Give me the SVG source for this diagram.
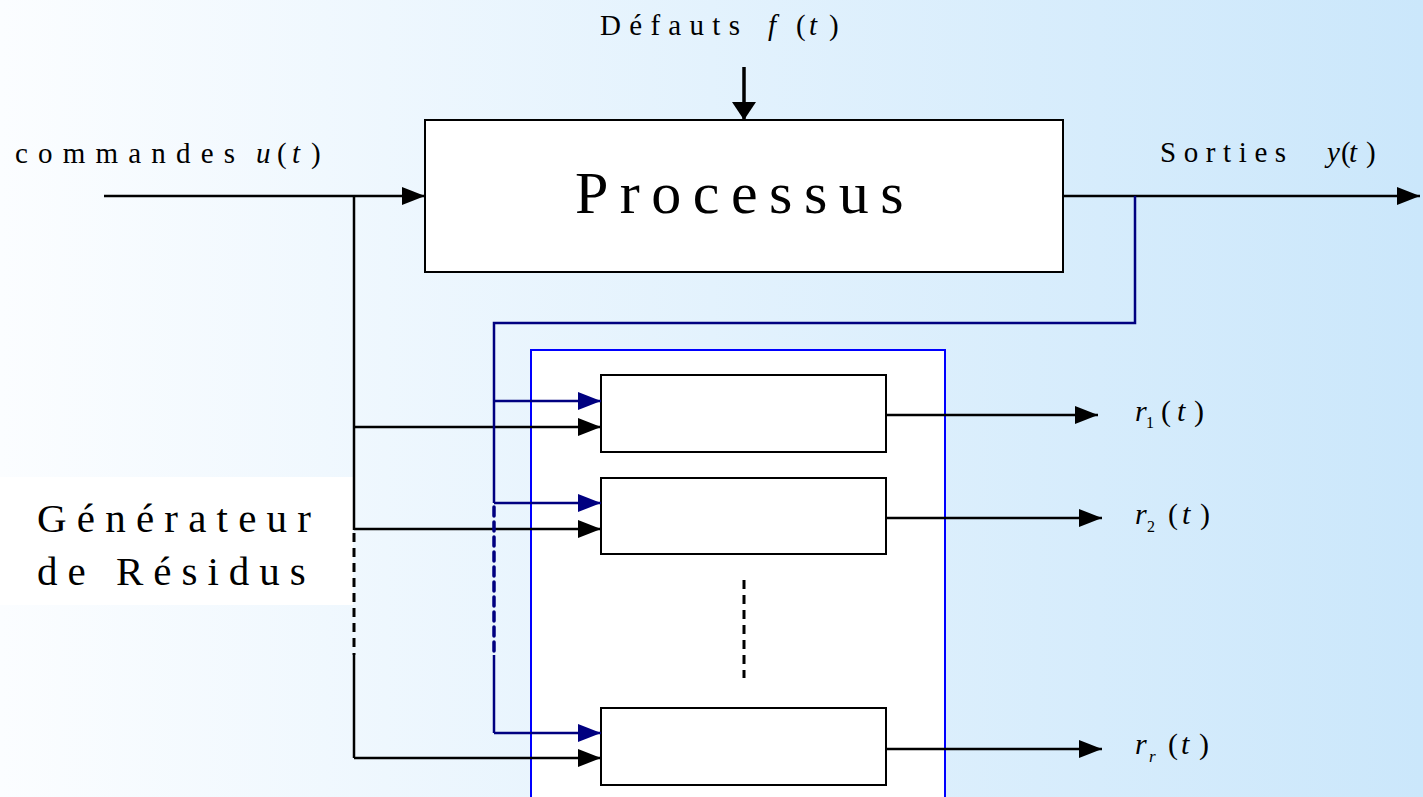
<svg xmlns="http://www.w3.org/2000/svg" width="1423" height="797" viewBox="0 0 1423 797">
<defs>
<linearGradient id="bg" x1="0" y1="0" x2="1" y2="0">
<stop offset="0" stop-color="#fbfdff"/>
<stop offset="1" stop-color="#cbe7fb"/>
</linearGradient>
<marker id="ab" markerUnits="userSpaceOnUse" markerWidth="26" markerHeight="20" refX="23" refY="9" orient="auto">
<path d="M0,0 L23,9 L0,18 z" fill="#000"/>
</marker>
<marker id="an" markerUnits="userSpaceOnUse" markerWidth="26" markerHeight="20" refX="23" refY="9" orient="auto">
<path d="M0,0 L23,9 L0,18 z" fill="#000080"/>
</marker>
<marker id="af" markerUnits="userSpaceOnUse" markerWidth="20" markerHeight="26" refX="18" refY="12" orient="auto">
<path d="M0,0 L18,12 L0,24 z" fill="#000"/>
</marker>
</defs>
<style>
.t{font-family:"Liberation Serif","Times New Roman",serif;fill:#000}
.i{font-style:italic}
.box{fill:#fff;stroke:#000;stroke-width:2}
.k{stroke:#000;stroke-width:2.5;fill:none}
.n{stroke:#000080;stroke-width:2.5;fill:none}
.kd{stroke:#000;stroke-width:3;fill:none;stroke-dasharray:9,6}
.nd{stroke:#000080;stroke-width:3.5;fill:none;stroke-dasharray:9,6;stroke-linecap:round}
</style>
<rect x="0" y="0" width="1423" height="797" fill="url(#bg)"/>

<g id="generateur-label">
<rect x="0" y="477" width="353" height="128" fill="#fff"/>
<text class="t" x="37" y="532" font-size="41" letter-spacing="10.2">Générateur</text>
<text class="t" x="37" y="585" font-size="41" letter-spacing="10">de Résidus</text>
</g>

<g id="residus-bloc">
<rect x="531" y="350" width="414" height="460" fill="#fff" stroke="#0000ff" stroke-width="2"/>
</g>

<g id="processus">
<rect class="box" x="425" y="120" width="638" height="152"/>
<text class="t" x="575" y="213" font-size="60" letter-spacing="11.5">Processus</text>
</g>

<g id="bloc1"><rect class="box" x="601" y="375" width="285" height="77"/></g>
<g id="bloc2"><rect class="box" x="601" y="478" width="285" height="76"/></g>
<g id="bloc3"><rect class="box" x="601" y="708" width="285" height="77"/></g>

<g id="labels">
<text class="t" font-size="29" y="35"><tspan x="600" letter-spacing="8.3">Défauts</tspan><tspan class="i" x="768">f</tspan><tspan x="796">(</tspan><tspan class="i" x="809">t</tspan><tspan x="829">)</tspan></text>
<text class="t" font-size="29" y="163"><tspan x="15" letter-spacing="10.2">commandes</tspan><tspan class="i" x="256">u</tspan><tspan x="277">(</tspan><tspan class="i" x="292">t</tspan><tspan x="311">)</tspan></text>
<text class="t" font-size="29" y="162"><tspan x="1160" letter-spacing="7.6">Sorties</tspan><tspan class="i" x="1327">y</tspan><tspan x="1341">(</tspan><tspan class="i" x="1349">t</tspan><tspan x="1366">)</tspan></text>
<text class="t" font-size="30" y="421"><tspan class="i" x="1135">r</tspan><tspan x="1146" y="428" font-size="16">1</tspan><tspan x="1161" y="421">(</tspan><tspan class="i" x="1177">t</tspan><tspan x="1194">)</tspan></text>
<text class="t" font-size="30" y="524"><tspan class="i" x="1135">r</tspan><tspan x="1147" y="532" font-size="16">2</tspan><tspan x="1168" y="524">(</tspan><tspan class="i" x="1182">t</tspan><tspan x="1200">)</tspan></text>
<text class="t" font-size="30" y="754"><tspan class="i" x="1135">r</tspan><tspan class="i" x="1149" y="762" font-size="17">r</tspan><tspan x="1168" y="754">(</tspan><tspan class="i" x="1181">t</tspan><tspan x="1199">)</tspan></text>
</g>

<g id="connecteurs">
<line x1="744" y1="67" x2="744" y2="120" stroke="#000" stroke-width="3.5" marker-end="url(#af)"/>
<line class="k" x1="104" y1="196" x2="425" y2="196" marker-end="url(#ab)"/>
<line class="k" x1="1063" y1="196" x2="1420" y2="196" marker-end="url(#ab)"/>
<polyline class="k" points="354,196 354,530"/>
<line class="kd" x1="354" y1="533" x2="354" y2="655"/>
<polyline class="k" points="354,655 354,758"/>
<line class="k" x1="354" y1="427" x2="601" y2="427" marker-end="url(#ab)"/>
<line class="k" x1="354" y1="529" x2="601" y2="529" marker-end="url(#ab)"/>
<line class="k" x1="354" y1="758" x2="601" y2="758" marker-end="url(#ab)"/>
<polyline class="n" points="1135,196 1135,323 494,323 494,503"/>
<line class="nd" x1="494" y1="507" x2="494" y2="655"/>
<polyline class="n" points="494,655 494,733"/>
<line class="n" x1="494" y1="401" x2="601" y2="401" marker-end="url(#an)"/>
<line class="n" x1="494" y1="503" x2="601" y2="503" marker-end="url(#an)"/>
<line class="n" x1="494" y1="733" x2="601" y2="733" marker-end="url(#an)"/>
<line class="k" x1="886" y1="415" x2="1098" y2="415" marker-end="url(#ab)"/>
<line class="k" x1="886" y1="518" x2="1102" y2="518" marker-end="url(#ab)"/>
<line class="k" x1="886" y1="749" x2="1102" y2="749" marker-end="url(#ab)"/>
<line class="kd" x1="744" y1="580" x2="744" y2="678" stroke-dasharray="8,7"/>
</g>
</svg>
